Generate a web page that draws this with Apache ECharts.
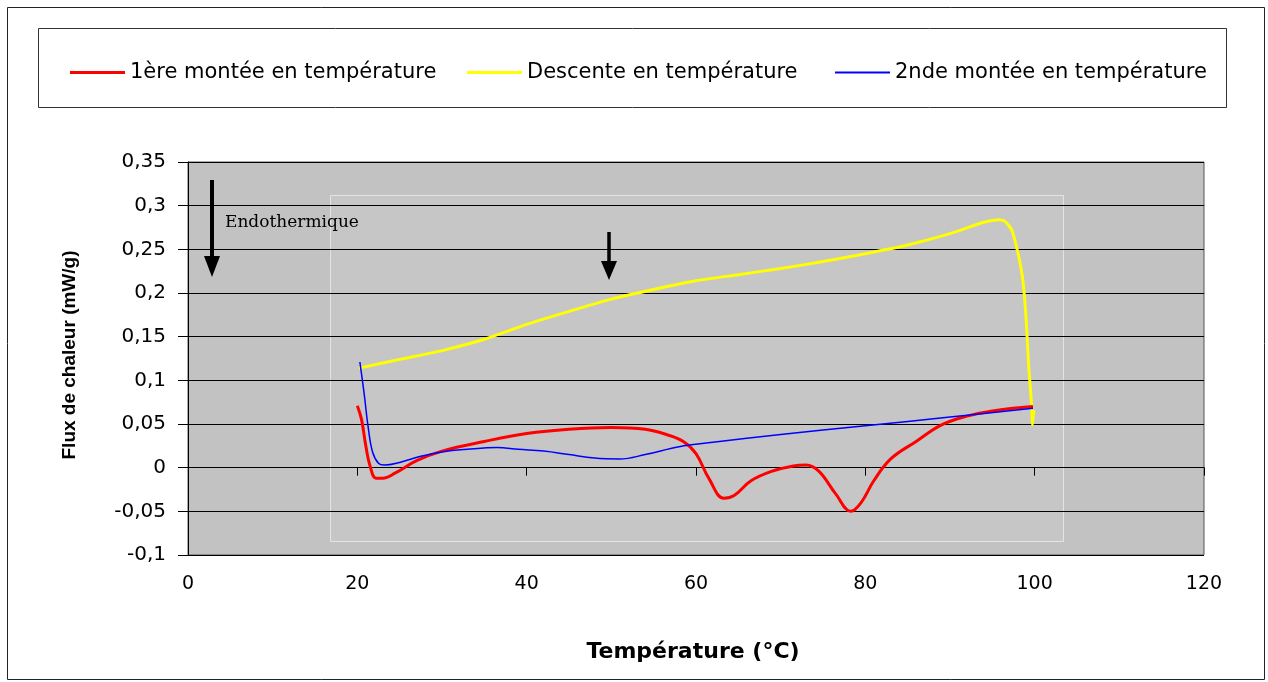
<!DOCTYPE html>
<html>
<head>
<meta charset="utf-8">
<script src="https://cdn.jsdelivr.net/npm/echarts@6/dist/echarts.min.js"></script>
<style>
html,body{margin:0;padding:0;background:#fff;}
#chart{width:1268px;height:682px;}
</style>
</head>
<body>
<div id="chart"></div>
<script>
// ---- data ----
const seriesNames = ['1ère montée en température', 'Descente en température', '2nde montée en température'];

const tempMontee1 = [20.0, 20.5, 21.0, 21.5, 22.2, 23.0, 24.5, 27.0, 30.0, 35.0, 40.0, 45.0, 50.0, 54.0, 56.5, 58.5, 60.0, 61.5, 63.3, 64.5, 66.5, 69.0, 71.5, 73.0, 74.5, 76.5, 78.3, 79.5, 81.0, 83.0, 86.0, 89.0, 92.0, 95.0, 99.8];
const fluxMontee1 = [0.071, 0.055, 0.025, 0.002, -0.012, -0.012, -0.006, 0.008, 0.019, 0.030, 0.039, 0.044, 0.046, 0.044, 0.038, 0.030, 0.016, -0.012, -0.035, -0.032, -0.015, -0.004, 0.002, 0.003, -0.004, -0.030, -0.050, -0.040, -0.015, 0.010, 0.030, 0.049, 0.059, 0.065, 0.070];

const tempDescente = [99.9, 99.75, 99.6, 99.3, 99.0, 98.6, 98.0, 97.3, 96.5, 95.8, 94.0, 90.0, 85.0, 80.0, 75.0, 70.0, 65.0, 60.0, 55.0, 50.0, 45.0, 40.0, 35.0, 30.0, 25.0, 20.2];
const fluxDescente = [0.066, 0.049, 0.077, 0.115, 0.169, 0.215, 0.247, 0.272, 0.282, 0.284, 0.281, 0.268, 0.255, 0.245, 0.236, 0.228, 0.221, 0.214, 0.204, 0.193, 0.179, 0.164, 0.147, 0.134, 0.124, 0.114];

const tempMontee2 = [20.3, 20.8, 21.3, 21.8, 22.5, 23.2, 25.0, 27.5, 30.0, 33.0, 36.5, 39.0, 42.0, 45.0, 48.0, 51.0, 54.0, 58.0, 62.0, 70.0, 80.0, 90.0, 99.8];
const fluxMontee2 = [0.121, 0.085, 0.045, 0.018, 0.005, 0.003, 0.006, 0.013, 0.018, 0.021, 0.023, 0.021, 0.019, 0.015, 0.011, 0.010, 0.015, 0.024, 0.029, 0.038, 0.048, 0.058, 0.068];

const xTicks = {min: 0, max: 120, interval: 20};
const yTicks = {min: -0.1, max: 0.35, interval: 0.05};

const xTitle = 'Température (°C)';
const yTitle = 'Flux de chaleur (mW/g)';
const noteText = 'Endothermique';

// ---- build ----
function pairs(xs, ys) { return xs.map((x, i) => [x, ys[i]]); }

const chart = echarts.init(document.getElementById('chart'), null, {renderer: 'canvas'});

const legendCommon = {
  top: 57, itemWidth: 55, icon: 'rect', itemGap: 0,
  textStyle: {fontFamily: 'DejaVu Sans', fontSize: 21, color: '#000'},
  selectedMode: false
};

const option = {
  animation: false,
  backgroundColor: '#fff',
  grid: {left: 188, right: 64, top: 162, bottom: 127, containLabel: false},
  legend: [
    Object.assign({}, legendCommon, {left: 65, itemHeight: 3, data: [seriesNames[0]]}),
    Object.assign({}, legendCommon, {left: 462, itemHeight: 3, data: [seriesNames[1]]}),
    Object.assign({}, legendCommon, {left: 830, itemHeight: 2, data: [seriesNames[2]]})
  ],
  xAxis: {
    type: 'value', min: xTicks.min, max: xTicks.max, interval: xTicks.interval,
    axisLine: {show: true, lineStyle: {color: '#000', width: 1}},
    axisTick: {show: true, length: 8, lineStyle: {color: '#000'}},
    axisLabel: {margin: 20, fontFamily: 'DejaVu Sans', fontSize: 19, color: '#000'},
    splitLine: {show: false}
  },
  yAxis: {
    type: 'value', min: yTicks.min, max: yTicks.max, interval: yTicks.interval,
    axisLine: {show: true, lineStyle: {color: '#000', width: 1}},
    axisTick: {show: true, length: 10, lineStyle: {color: '#000'}},
    axisLabel: {margin: 22, fontFamily: 'DejaVu Sans', fontSize: 20, color: '#000',
      formatter: v => (Math.round(v * 100) / 100).toString().replace('.', ',')},
    splitLine: {show: true, lineStyle: {color: '#000', width: 1}}
  },
  series: [
    {name: seriesNames[0], type: 'line', data: pairs(tempMontee1, fluxMontee1), showSymbol: false, smooth: 0.4,
     color: '#ff0000', lineStyle: {width: 3, color: '#ff0000'}, z: 4},
    {name: seriesNames[1], type: 'line', data: pairs(tempDescente, fluxDescente), showSymbol: false, smooth: 0.2,
     color: '#ffff00', lineStyle: {width: 3, color: '#ffff00'}, z: 3},
    {name: seriesNames[2], type: 'line', data: pairs(tempMontee2, fluxMontee2), showSymbol: false, smooth: 0.4,
     color: '#0000ff', lineStyle: {width: 1.5, color: '#0000ff'}, z: 5}
  ],
  graphic: [
    {type: 'rect', z: -20, shape: {x: 7.5, y: 7.5, width: 1257, height: 672}, style: {fill: '#fff', stroke: '#222', lineWidth: 1}},
    {type: 'rect', z: -15, shape: {x: 38.5, y: 28.5, width: 1188, height: 79}, style: {fill: '#fff', stroke: '#333', lineWidth: 1}},
    {type: 'rect', z: -10, shape: {x: 188, y: 162, width: 1016, height: 393}, style: {fill: '#c2c2c2', stroke: '#555', lineWidth: 1}},
    {type: 'rect', z: -9, shape: {x: 330.5, y: 195.5, width: 733, height: 346}, style: {fill: 'rgba(255,255,255,0.07)', stroke: 'rgba(255,255,255,0.55)', lineWidth: 1}},
    {type: 'text', z: 10, x: 693, y: 652, style: {text: xTitle, fontFamily: 'DejaVu Sans', fontWeight: 'bold', fontSize: 22, fill: '#000', align: 'center', verticalAlign: 'middle'}},
    {type: 'text', z: 10, x: 70, y: 355, rotation: Math.PI / 2, style: {text: yTitle, fontFamily: 'Liberation Sans', fontWeight: 'bold', fontSize: 19, fill: '#000', align: 'center', verticalAlign: 'middle'}},
    {type: 'text', z: 10, x: 225, y: 223, style: {text: noteText, fontFamily: 'DejaVu Serif', fontSize: 17, fill: '#000', align: 'left', verticalAlign: 'middle'}},
    {type: 'line', z: 10, shape: {x1: 212, y1: 180, x2: 212, y2: 262}, style: {stroke: '#000', lineWidth: 4}},
    {type: 'polygon', z: 10, shape: {points: [[204, 256], [220, 256], [212, 277]]}, style: {fill: '#000'}},
    {type: 'line', z: 10, shape: {x1: 609, y1: 232, x2: 609, y2: 266}, style: {stroke: '#000', lineWidth: 3.5}},
    {type: 'polygon', z: 10, shape: {points: [[601, 261], [617, 261], [609, 280]]}, style: {fill: '#000'}}
  ]
};
chart.setOption(option);
</script>
</body>
</html>
